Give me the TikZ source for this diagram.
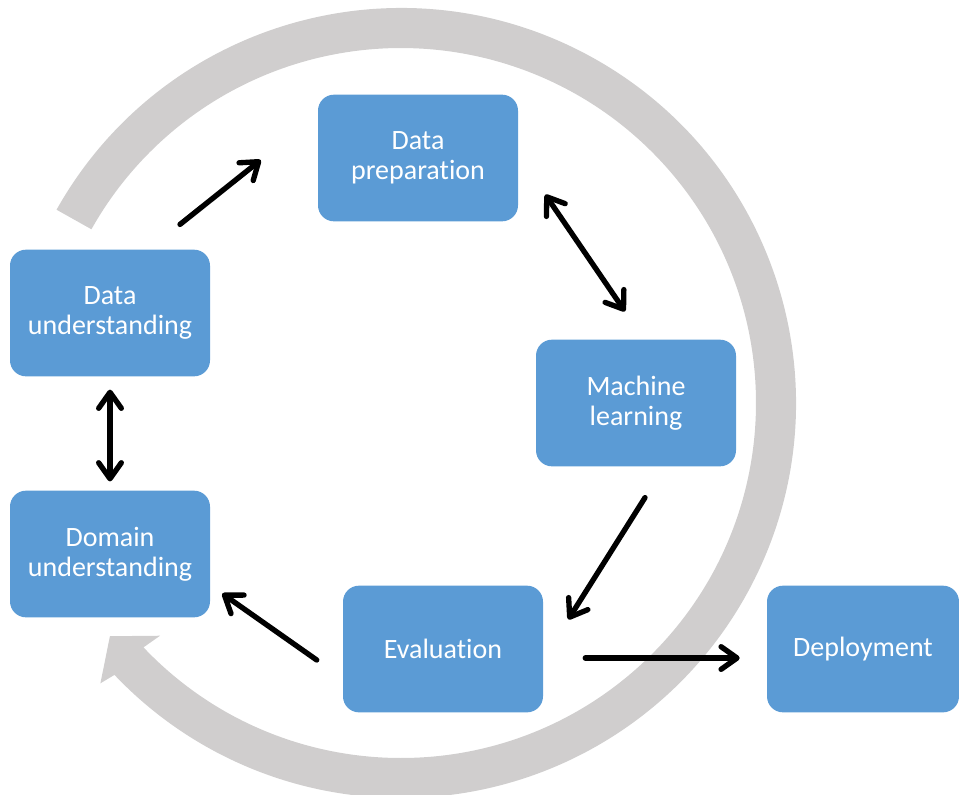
\documentclass[tikz,border=0pt]{standalone}
\usepackage{fontspec}
\setmainfont{Carlito}[Ligatures=NoCommon]
\usetikzlibrary{arrows.meta}

\definecolor{boxblue}{RGB}{91,155,213}
\definecolor{ringgray}{RGB}{208,206,206}

\begin{document}
\begin{tikzpicture}[x=0.75pt, y=-0.75pt,
	stage/.style={fill=boxblue, rounded corners=12pt, minimum width=150pt, minimum height=95pt,
		inner sep=0pt, text=white, align=center, font=\fontsize{21}{22.5}\selectfont},
	>={Straight Barb[length=12pt, width=17pt, round]},
	flow/.style={line width=4pt, line cap=round}]
	\useasboundingbox (0,0) rectangle (959,794);

% grey cycle arrow
	\begin{scope}[shift={(401,403)}]
	\fill[ringgray] (209.3:395) arc[start angle=209.3, end angle=496.5, radius=395]
		-- (497:411) -- (501.3:373) -- (496:335) -- (496.5:355)
		arc[start angle=496.5, end angle=209.3, radius=355] -- cycle;
	\end{scope}

% stages
	\node[stage] (dprep) at (418,158) {Data\\preparation};
	\node[stage] (dund) at (110,313) {Data\\understanding};
	\node[stage] (ml) at (636,403) {Machine\\learning};
	\node[stage] (dom) at (110,554) {Domain\\understanding};
	\node[stage] (eval) at (443,649) {Evaluation};
	\node[stage, minimum width=144pt] (dep) at (863,649) {Deployment};

% arrows between stages
	\draw[flow, ->] ([shift={(70,-25)}]dund.north) -- ([shift={(-57,2)}]dprep.west);
	\draw[flow, <->] ([shift={(27,-27)}]dprep.south east) -- ([shift={(-11,-28)}]ml.north);
	\draw[flow, <->] ([shift={(0,13)}]dund.south) -- ([shift={(0,-9)}]dom.north);
	\draw[flow, ->] ([shift={(9,31)}]ml.south) -- ([shift={(25,34)}]eval.north east);
	\draw[flow, ->] ([shift={(-26,11)}]eval.west) -- ([shift={(12,-24)}]dom.south east);
	\draw[flow, ->] ([shift={(42,9)}]eval.east) -- ([shift={(-27,9)}]dep.west);

\end{tikzpicture}
\end{document}
